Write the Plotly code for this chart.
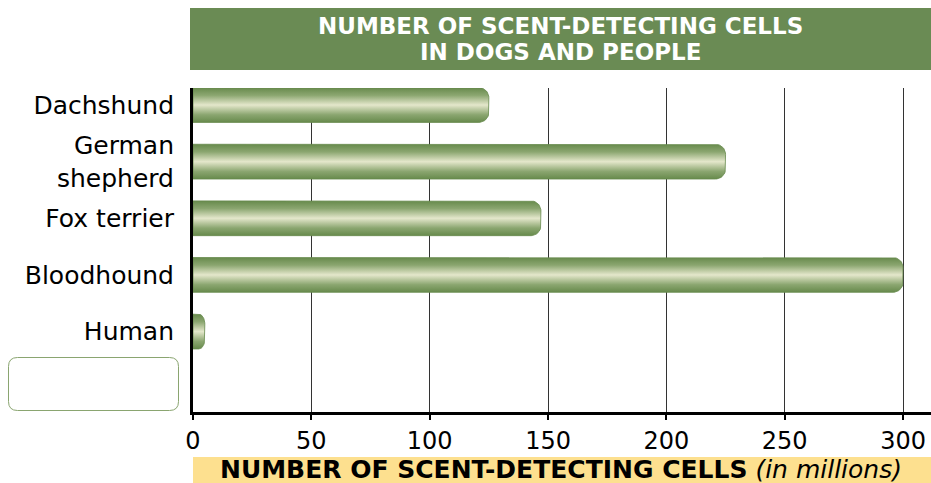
import numpy as np
import plotly.graph_objects as go

categories = ["Dachshund", "German<br>shepherd", "Fox terrier", "Bloodhound", "Human"]
values = [125, 225, 147, 300, 5]
tick_values = [0, 50, 100, 150, 200, 250, 300]
tick_labels = ["0", "50", "100", "150", "200", "250", "300"]
title_line1 = "NUMBER OF SCENT-DETECTING CELLS"
title_line2 = "IN DOGS AND PEOPLE"
axis_title_bold = "NUMBER OF SCENT-DETECTING CELLS"
axis_title_italic = "(in millions)"

W, H = 931, 483
ML, MR, MT, MB = 193, 0, 88, 71
plot_w = W - ML - MR
plot_h = H - MT - MB
x_range = [0, 311.8]
y_range = [5.42, -0.30]
px_per_x = plot_w / (x_range[1] - x_range[0])
px_per_y = plot_h / (y_range[0] - y_range[1])

DARK = "#678a4c"
MID = "#8ba670"
LIGHT = "#e4e7cb"
FONT = "DejaVu Sans"

fig = go.Figure()

half = 0.307
r_px = 10
for i, (cat, v) in enumerate(zip(categories, values)):
    rx = min(r_px / px_per_x, v / 2)
    ry = min(r_px / px_per_y, half)
    top, bot = i - half, i + half
    xs = list(np.linspace(0, v - rx, 8))
    ys = [top] * 8
    t = np.linspace(-np.pi / 2, 0, 12)
    xs += list(v - rx + rx * np.cos(t))
    ys += list(top + ry + ry * np.sin(t))
    t = np.linspace(0, np.pi / 2, 12)
    xs += list(v - rx + rx * np.cos(t))
    ys += list(bot - ry + ry * np.sin(t))
    xs += [v - rx, 0, 0]
    ys += [bot, bot, top]
    fig.add_trace(go.Scatter(
        x=xs, y=ys, mode="lines", fill="toself",
        line=dict(width=0.8, color=DARK),
        fillgradient=dict(
            type="vertical",
            colorscale=[[0, DARK], [0.22, MID], [0.5, LIGHT], [0.78, MID], [1, DARK]],
            start=top, stop=bot,
        ),
        hoverinfo="skip", showlegend=False,
    ))

fig.update_xaxes(
    range=x_range, tickvals=tick_values, ticktext=tick_labels,
    showgrid=True, gridcolor="#333333", gridwidth=1,
    showline=True, linecolor="black", linewidth=3,
    ticks="outside", ticklen=5, tickwidth=2, tickcolor="black",
    tickfont=dict(family=FONT, size=24, color="black"),
    zeroline=False, fixedrange=True,
)
fig.update_yaxes(
    range=y_range, tickvals=list(range(len(categories))), ticktext=categories,
    showgrid=False, showline=True, linecolor="black", linewidth=3,
    ticks="", ticklabelstandoff=11,
    tickfont=dict(family=FONT, size=25, color="black"),
    zeroline=False, fixedrange=True,
)

def px2paper_x(px):
    return (px - ML) / plot_w

def px2paper_y(py):
    return (H - MB - py) / plot_h

shapes = []
shapes.append(dict(type="rect", xref="paper", yref="paper", layer="below",
                   x0=px2paper_x(190), x1=1, y0=px2paper_y(70), y1=px2paper_y(8),
                   fillcolor="#6a8b54", line=dict(width=0)))
shapes.append(dict(type="rect", xref="paper", yref="paper", layer="below",
                   x0=0, x1=1, y0=px2paper_y(483), y1=px2paper_y(457),
                   fillcolor="#fde08f", line=dict(width=0)))
bx0, bx1, by0, by1, br = 8.5, 178.5, 357.5, 410.5, 9
X0, X1 = px2paper_x(bx0), px2paper_x(bx1)
Y0, Y1 = px2paper_y(by1), px2paper_y(by0)
rx, ry = br / plot_w, br / plot_h
path = (f"M {X0+rx},{Y1} L {X1-rx},{Y1} Q {X1},{Y1} {X1},{Y1-ry} "
        f"L {X1},{Y0+ry} Q {X1},{Y0} {X1-rx},{Y0} L {X0+rx},{Y0} "
        f"Q {X0},{Y0} {X0},{Y0+ry} L {X0},{Y1-ry} Q {X0},{Y1} {X0+rx},{Y1} Z")
shapes.append(dict(type="path", xref="paper", yref="paper", path=path,
                   line=dict(color="#8aa570", width=1), fillcolor="white"))

annotations = [
    dict(text="<b>" + title_line1 + "</b>", xref="paper", yref="paper",
         x=px2paper_x(560), y=px2paper_y(39), xanchor="center", yanchor="bottom",
         borderpad=0, borderwidth=0,
         showarrow=False, font=dict(family=FONT, size=23, color="white")),
    dict(text="<b>" + title_line2 + "</b>", xref="paper", yref="paper",
         x=px2paper_x(560), y=px2paper_y(39), xanchor="center", yanchor="top",
         borderpad=0, borderwidth=0,
         showarrow=False, font=dict(family=FONT, size=23, color="white")),
    dict(text="<b>" + axis_title_bold + "</b> <i>" + axis_title_italic + "</i>",
         xref="paper", yref="paper",
         x=px2paper_x(561), y=px2paper_y(470), xanchor="center", yanchor="middle",
         showarrow=False, font=dict(family=FONT, size=25, color="black")),
]

fig.update_layout(
    width=W, height=H,
    margin=dict(l=ML, r=MR, t=MT, b=MB, pad=0),
    paper_bgcolor="white", plot_bgcolor="white",
    shapes=shapes, annotations=annotations,
    showlegend=False,
)

fig.write_html("out.html", config={"displayModeBar": False},
               post_script="document.body.style.margin='0';document.body.style.overflow='hidden';")
